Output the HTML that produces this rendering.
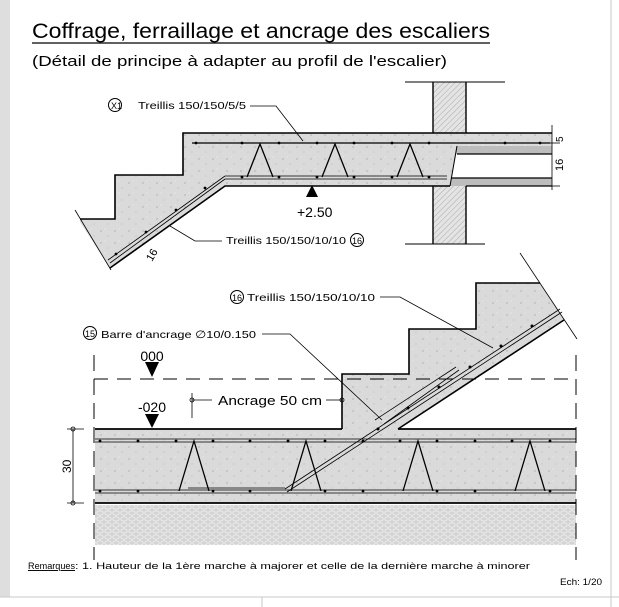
<!DOCTYPE html>
<html><head><meta charset="utf-8"><style>
html,body{margin:0;padding:0;background:#fff;}
svg{display:block;font-family:"Liberation Sans",sans-serif;}
</style></head><body>
<svg width="619" height="607" viewBox="0 0 619 607" xmlns="http://www.w3.org/2000/svg">
<defs>
<pattern id="hatch" width="4" height="4" patternUnits="userSpaceOnUse" patternTransform="rotate(45)">
<rect width="4" height="4" fill="#e4e4e4"/><line x1="0" y1="0" x2="0" y2="4" stroke="#aaa" stroke-width="1"/></pattern>
<pattern id="gravel" width="8" height="6" patternUnits="userSpaceOnUse">
<rect width="8" height="6" fill="#d4d4d4"/><ellipse cx="4" cy="3" rx="3.2" ry="2.2" fill="none" stroke="#eee" stroke-width="0.9"/></pattern>
<pattern id="speck" width="14" height="12" patternUnits="userSpaceOnUse">
<rect width="14" height="12" fill="#dadada"/><circle cx="3" cy="3" r="0.6" fill="#999"/><circle cx="10" cy="8" r="0.5" fill="#aaa"/><circle cx="7" cy="1" r="0.5" fill="#f5f5f5"/></pattern>
</defs>
<rect x="0" y="0" width="10" height="597" fill="#dedede"/>
<line x1="611" y1="0" x2="611" y2="607" stroke="#c8c8c8"/>
<line x1="0" y1="597" x2="619" y2="597" stroke="#c8c8c8"/>
<line x1="262" y1="597" x2="262" y2="607" stroke="#c8c8c8"/>

<text x="32" y="38" font-size="21" textLength="458" lengthAdjust="spacingAndGlyphs">Coffrage, ferraillage et ancrage des escaliers</text>
<line x1="32" y1="43" x2="490" y2="43" stroke="#000" stroke-width="1.2"/>
<text x="32" y="66" font-size="15" textLength="415" lengthAdjust="spacingAndGlyphs">(Détail de principe à adapter au profil de l'escalier)</text>

<polygon points="80,219 115,219 115,175 183,175 183,133 552,133 552,146 457,146 450,186 225,186 110,268 95,245 80,222" fill="url(#speck)"/>
<rect x="433" y="82" width="33" height="51" fill="url(#hatch)"/>
<rect x="433" y="186" width="33" height="58" fill="url(#hatch)"/>
<polygon points="457,146 552,146 552,154 456,154" fill="#bdbdbd"/>
<polygon points="451,178 552,178 552,186 450,186" fill="#bdbdbd"/>
<g stroke="#000" fill="none">
<polyline points="80,219 115,219 115,175 183,175 183,133 552,133" stroke-width="1.6"/>
<polyline points="110,268 225,186 450,186" stroke-width="1.6"/>
<line x1="466" y1="186" x2="552" y2="186" stroke-width="1.2"/>
<line x1="457" y1="154" x2="552" y2="154" stroke-width="1.2"/>
<line x1="451" y1="178" x2="552" y2="178" stroke-width="1.2"/>
<line x1="457" y1="146" x2="450" y2="186" stroke-width="1"/>
<line x1="433" y1="82" x2="433" y2="133" stroke-width="1.4"/>
<line x1="466" y1="82" x2="466" y2="133" stroke-width="1.4"/>
<line x1="433" y1="186" x2="433" y2="244" stroke-width="1.4"/>
<line x1="466" y1="186" x2="466" y2="244" stroke-width="1.4"/>
<line x1="405" y1="82" x2="505" y2="82" stroke-width="1"/>
<line x1="405" y1="244" x2="485" y2="244" stroke-width="1"/>
<line x1="75" y1="210" x2="111" y2="270" stroke-width="0.8"/>
<line x1="192" y1="143" x2="550" y2="143" stroke-width="1.3"/>
<line x1="225" y1="176" x2="447" y2="176" stroke-width="0.8"/>
<line x1="225" y1="179" x2="447" y2="179" stroke-width="0.8"/>
<line x1="225" y1="176" x2="108" y2="260" stroke-width="0.8"/>
<line x1="225" y1="179" x2="110" y2="263" stroke-width="0.8"/>
<polyline points="247,177 260,144 273,177" stroke-width="1.3"/>
<polyline points="322,177 335,144 348,177" stroke-width="1.3"/>
<polyline points="397,177 410,144 423,177" stroke-width="1.3"/>
<line x1="552" y1="125" x2="552" y2="190" stroke-width="0.8"/>
<line x1="548" y1="143" x2="560" y2="143" stroke-width="0.8"/>
<line x1="548" y1="186" x2="560" y2="186" stroke-width="0.8"/>
<polyline points="250,106 276,106 303,141" stroke-width="0.8"/>
<polyline points="222,241 195,241 170,226" stroke-width="0.8"/>
<circle cx="115" cy="105" r="6.5" stroke-width="1"/>
<circle cx="357" cy="240" r="6.5" stroke-width="1"/>
</g>
<g fill="#000">
<circle cx="196" cy="143" r="1.4"/><circle cx="242" cy="143" r="1.4"/><circle cx="279" cy="143" r="1.4"/><circle cx="317" cy="143" r="1.4"/><circle cx="354" cy="143" r="1.4"/><circle cx="392" cy="143" r="1.4"/><circle cx="429" cy="143" r="1.4"/><circle cx="505" cy="143" r="1.4"/><circle cx="540" cy="143" r="1.4"/>
<circle cx="242" cy="177" r="1.4"/><circle cx="279" cy="177" r="1.4"/><circle cx="317" cy="177" r="1.4"/><circle cx="354" cy="177" r="1.4"/><circle cx="392" cy="177" r="1.4"/><circle cx="429" cy="177" r="1.4"/>
<circle cx="205" cy="188" r="1.4"/><circle cx="176" cy="210" r="1.4"/><circle cx="146" cy="232" r="1.4"/><circle cx="116" cy="254" r="1.4"/>
<polygon points="312,185 306,197 318,197"/>
</g>
<text x="297" y="217" font-size="14">+2.50</text>
<text x="111" y="109" font-size="9">X1</text>
<text x="138" y="109" font-size="10.5" textLength="108" lengthAdjust="spacingAndGlyphs">Treillis 150/150/5/5</text>
<text x="226" y="244" font-size="10.5" textLength="120" lengthAdjust="spacingAndGlyphs">Treillis 150/150/10/10</text>
<text x="352" y="244" font-size="9">16</text>
<text x="0" y="0" font-size="11" transform="translate(152,262) rotate(-60)">16</text>
<text x="0" y="0" font-size="10" transform="translate(563,142) rotate(-90)">5</text>
<text x="0" y="0" font-size="11" transform="translate(563,171) rotate(-90)">16</text>

<rect x="95" y="429" width="481" height="74" fill="url(#speck)"/>
<rect x="95" y="505" width="481" height="40" fill="url(#gravel)"/>
<polygon points="342,429 342,374 409,374 409,329 476,329 476,283 540,283 564,320 398,429" fill="url(#speck)"/>
<g stroke="#000" fill="none">
<line x1="95" y1="429" x2="342" y2="429" stroke-width="1.8"/>
<line x1="398" y1="429" x2="576" y2="429" stroke-width="1.8"/>
<line x1="95" y1="503" x2="576" y2="503" stroke-width="1.8"/>
<polyline points="342,429 342,374 409,374 409,329 476,329 476,283 540,283" stroke-width="1.6"/>
<line x1="398" y1="429" x2="564" y2="320" stroke-width="1.6"/>
<line x1="520" y1="253" x2="577" y2="339" stroke-width="0.8"/>
<line x1="95" y1="439" x2="576" y2="439" stroke-width="0.8"/>
<line x1="95" y1="442" x2="576" y2="442" stroke-width="0.8"/>
<line x1="95" y1="490" x2="576" y2="490" stroke-width="0.8"/>
<line x1="95" y1="493" x2="576" y2="493" stroke-width="0.8"/>
<polyline points="179,491 194,441 209,491" stroke-width="1.3"/>
<polyline points="291,491 306,441 321,491" stroke-width="1.3"/>
<polyline points="403,491 418,441 433,491" stroke-width="1.3"/>
<polyline points="515,491 530,441 545,491" stroke-width="1.3"/>
<line x1="285" y1="489" x2="560" y2="309" stroke-width="0.8"/>
<line x1="287" y1="492" x2="562" y2="312" stroke-width="0.8"/>
<line x1="375" y1="420" x2="456" y2="367" stroke-width="0.8"/>
<line x1="384" y1="424" x2="459" y2="370" stroke-width="0.8"/>
<line x1="188" y1="488" x2="285" y2="488" stroke-width="0.8"/>
<line x1="94" y1="379" x2="576" y2="379" stroke-width="1" stroke-dasharray="14,9"/>
<line x1="94" y1="355" x2="94" y2="560" stroke-width="1" stroke-dasharray="16,8"/>
<line x1="576" y1="355" x2="576" y2="560" stroke-width="1" stroke-dasharray="16,8"/>
<line x1="73" y1="429" x2="73" y2="503" stroke-width="0.8"/>
<line x1="67" y1="429" x2="84" y2="429" stroke-width="0.8"/>
<line x1="67" y1="503" x2="84" y2="503" stroke-width="0.8"/>
<circle cx="73" cy="429" r="2" stroke-width="0.8"/><circle cx="73" cy="503" r="2" stroke-width="0.8"/>
<line x1="192" y1="393" x2="192" y2="418" stroke-width="0.8"/>
<line x1="192" y1="400" x2="212" y2="400" stroke-width="0.8"/>
<line x1="326" y1="400" x2="342" y2="400" stroke-width="0.8"/>
<circle cx="192" cy="400" r="2" stroke-width="0.8"/><circle cx="342" cy="400" r="2" stroke-width="0.8"/>
<polyline points="380,297 400,297 493,348" stroke-width="0.8"/>
<polyline points="262,334 290,334 382,420" stroke-width="0.8"/>
<circle cx="237" cy="297" r="6.5" stroke-width="1"/>
<circle cx="90" cy="333" r="6.5" stroke-width="1"/>
</g>
<g fill="#000">
<polygon points="145,362 159,362 152,377"/>
<polygon points="145,414 159,414 152,428"/>
<circle cx="100" cy="441" r="1.4"/><circle cx="138" cy="441" r="1.4"/><circle cx="176" cy="441" r="1.4"/><circle cx="213" cy="441" r="1.4"/><circle cx="250" cy="441" r="1.4"/><circle cx="288" cy="441" r="1.4"/><circle cx="325" cy="441" r="1.4"/><circle cx="363" cy="441" r="1.4"/><circle cx="400" cy="441" r="1.4"/><circle cx="437" cy="441" r="1.4"/><circle cx="475" cy="441" r="1.4"/><circle cx="512" cy="441" r="1.4"/><circle cx="550" cy="441" r="1.4"/>
<circle cx="100" cy="491" r="1.4"/><circle cx="138" cy="491" r="1.4"/><circle cx="213" cy="491" r="1.4"/><circle cx="250" cy="491" r="1.4"/><circle cx="325" cy="491" r="1.4"/><circle cx="363" cy="491" r="1.4"/><circle cx="437" cy="491" r="1.4"/><circle cx="475" cy="491" r="1.4"/><circle cx="550" cy="491" r="1.4"/>
<circle cx="378" cy="429" r="1.5"/><circle cx="408" cy="408" r="1.5"/><circle cx="439" cy="387" r="1.5"/><circle cx="470" cy="367" r="1.5"/><circle cx="501" cy="346" r="1.5"/><circle cx="532" cy="326" r="1.5"/>
</g>
<text x="152" y="361" font-size="14" text-anchor="middle">000</text>
<text x="152" y="412" font-size="14" text-anchor="middle">-020</text>
<text x="218" y="405" font-size="12.5" textLength="104" lengthAdjust="spacingAndGlyphs">Ancrage 50 cm</text>
<text x="0" y="0" font-size="12" transform="translate(71,473) rotate(-90)">30</text>
<text x="232" y="301" font-size="9">16</text>
<text x="247" y="301" font-size="10.5" textLength="128" lengthAdjust="spacingAndGlyphs">Treillis 150/150/10/10</text>
<text x="85" y="337" font-size="9">15</text>
<text x="101" y="338" font-size="10.5" textLength="155" lengthAdjust="spacingAndGlyphs">Barre d'ancrage ∅10/0.150</text>

<text x="28" y="569" font-size="9.5" text-decoration="underline" textLength="47" lengthAdjust="spacingAndGlyphs">Remarques</text>
<text x="75" y="569" font-size="9.5" textLength="455" lengthAdjust="spacingAndGlyphs">: 1. Hauteur de la 1ère marche à majorer et celle de la dernière marche à minorer</text>
<text x="602" y="585" font-size="9" text-anchor="end" textLength="42" lengthAdjust="spacingAndGlyphs">Ech: 1/20</text>
</svg>
</body></html>
